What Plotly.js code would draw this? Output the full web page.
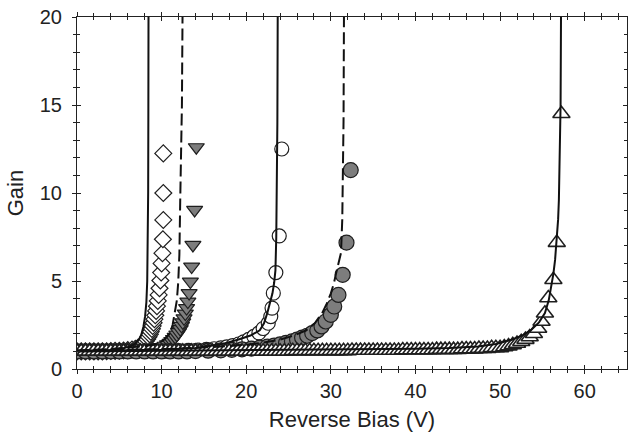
<!DOCTYPE html>
<html>
<head>
<meta charset="utf-8">
<script src="https://cdn.plot.ly/plotly-3.0.1.min.js"></script>
<style>html,body{margin:0;padding:0;background:#fff;}#chart{width:630px;height:441px;}</style>
</head>
<body>
<div id="chart"></div>
<script>
// ---- data ----
const diamondBias = [0,0.5,1,1.5,2,2.5,3,3.5,4,4.5,5,5.5,6,6.5,6.9,7.2,7.5,7.75,7.95,8.12,8.3,8.45,8.6,8.72,8.85,8.95,9.05,9.15,9.25,9.35,9.45,9.55,9.65,9.75,9.85,9.95,10.0,10.1,10.15,10.2,10.2,10.2];
const diamondGain = [1.0,1.0,1.0,1.0,1.0,1.0,1.0,1.01,1.02,1.03,1.04,1.05,1.07,1.1,1.15,1.2,1.28,1.37,1.47,1.58,1.7,1.83,1.97,2.12,2.28,2.45,2.63,2.83,3.05,3.3,3.57,3.87,4.21,4.59,5.03,5.48,6.0,6.58,7.37,8.47,10.0,12.25];

const triDownBias = [0,0.5,1,1.5,2,2.5,3,3.5,4,4.5,5,6,7,7.7,8.4,9.0,9.5,10.0,10.4,10.7,11.0,11.2,11.4,11.6,11.8,12.0,12.2,12.35,12.5,12.65,12.8,12.95,13.1,13.25,13.4,13.55,13.7,13.9,14.1];
const triDownGain = [1.0,1.0,1.0,1.0,1.0,1.0,1.0,1.0,1.0,1.0,1.02,1.03,1.05,1.07,1.1,1.14,1.19,1.25,1.32,1.4,1.49,1.59,1.7,1.82,1.95,2.1,2.27,2.45,2.65,2.88,3.15,3.46,3.83,4.31,4.97,5.82,7.05,9.04,12.6];

const openCircBias = [0,1,2,3,4,5,6,7,8,9,10.5,12,13.2,14.3,15.3,16.2,17,17.7,18.4,19.1,19.7,20.3,20.9,21.5,22.0,22.6,22.9,23.05,23.2,23.5,23.9,24.2];
const openCircGain = [1.0,1.0,1.0,1.0,1.0,1.0,1.0,1.0,1.0,1.0,1.02,1.04,1.06,1.08,1.11,1.15,1.2,1.26,1.33,1.42,1.54,1.68,1.85,2.05,2.3,2.6,2.98,3.46,4.31,5.48,7.56,12.5];

const grayCircBias = [0,1,2,3,4,5,6,7,8,9,10,11,12,13,14,15.5,17,18.3,19.5,20.6,21.6,22.5,23.3,24.0,24.7,25.4,26.0,26.6,27.2,27.8,28.4,28.9,29.4,30.0,30.4,30.9,31.4,31.85,32.35];
const grayCircGain = [1.0,1.0,1.0,1.0,1.0,1.0,1.0,1.0,1.0,1.0,1.0,1.0,1.0,1.0,1.02,1.04,1.06,1.09,1.12,1.16,1.21,1.27,1.33,1.4,1.48,1.57,1.67,1.78,1.89,2.04,2.19,2.42,2.7,3.08,3.55,4.21,5.35,7.18,11.3];

const triUpBias = [0,0.5,1,1.5,2,2.5,3,3.5,4,4.5,5,5.5,6,6.5,7,7.5,8,8.5,9,9.5,10,10.5,11,11.5,12,12.5,13,13.5,14,14.5,15,15.5,16,16.5,17,17.5,18,18.5,19,19.5,20,20.5,21,21.5,22,22.5,23,23.5,24,24.5,25,25.5,26,26.5,27,27.5,28,28.5,29,29.5,30,30.5,31,31.5,32,32.5,33,33.5,34,34.5,35,35.5,36,36.5,37,37.5,38,38.5,39,39.5,40,40.5,41,41.5,42,42.5,43,43.5,44,44.5,45,45.5,46,46.5,47,47.5,48,48.5,49,49.5,50,50.5,51,51.5,52,52.5,53,53.5,54,54.5,54.9,55.3,55.7,56.3,56.7,57.25];
const triUpGain = [1.0,1.0,1.0,1.0,1.0,1.0,1.0,1.0,1.0,1.0,1.0,1.0,1.0,1.0,1.0,1.0,1.0,1.0,1.0,1.0,1.0,1.0,1.0,1.0,1.0,1.0,1.0,1.0,1.0,1.0,1.0,
  1.01,1.01,1.01,1.01,1.01,1.01,1.01,1.01,1.01,1.01,1.01,1.01,1.01,1.01,1.01,1.01,1.01,1.01,1.01,1.01,
  1.03,1.03,1.03,1.03,1.03,1.03,1.03,1.03,1.03,1.03,1.03,1.03,1.03,1.03,
  1.05,1.05,1.05,1.05,1.05,1.05,1.05,1.05,1.05,1.05,1.05,1.05,
  1.08,1.08,1.08,1.08,1.08,1.08,1.08,1.08,
  1.1,1.1,1.1,1.1,1.1,1.1,
  1.13,1.13,1.13,1.13,
  1.16,1.16,1.16,
  1.2,1.2,1.2,
  1.25,1.3,1.37,1.45,1.55,1.67,1.82,2.0,2.3,2.7,3.17,4.03,5.07,7.18,14.5];

// fitted curves
const fitA_bias = [0,2,4,5,5.8,6.4,6.9,7.3,7.6,7.85,8.05,8.2,8.3,8.37,8.41,8.43,8.45];
const fitA_gain = [1.02,1.04,1.08,1.12,1.2,1.3,1.45,1.65,1.95,2.4,3.0,3.8,5.0,7,10,14,20];
const fitB_bias = [0,2,4,5.3,7,8,9,9.8,10.4,11.0,11.3,11.56,11.8,11.96,12.1,12.2,12.3,12.4,12.47];
const fitB_gain = [1.05,1.08,1.13,1.19,1.25,1.3,1.38,1.5,1.7,2.04,2.5,3.18,3.9,4.9,6.5,9.6,12,15,20];
const fitC_bias = [0,5,10,14,17,19,20.5,21.6,22.1,22.5,22.85,23.1,23.3,23.45,23.55,23.62,23.68,23.72];
const fitC_gain = [1.02,1.05,1.1,1.2,1.4,1.66,1.9,2.2,2.6,3.2,3.8,4.3,4.9,5.6,7.5,10,14,20];
const fitD_bias = [0,4,8,11,14,16,18,20,21.6,23.9,25.5,27.1,28.1,29.0,29.5,30.0,30.35,30.6,30.9,31.2,31.35,31.45,31.5,31.55];
const fitD_gain = [1.05,1.07,1.1,1.14,1.2,1.24,1.3,1.38,1.47,1.66,1.88,2.2,2.6,3.2,3.7,4.3,4.85,5.4,6.0,6.6,8.5,11,14.1,20];
const fitE_bias = [0,10,20,30,40,44,47.4,49.5,51.4,52.7,53.7,54.6,55.3,55.75,56.07,56.3,56.5,56.7,56.86,56.95,57.06,57.15,57.2];
const fitE_gain = [1.0,1.03,1.05,1.08,1.15,1.2,1.28,1.42,1.66,1.92,2.23,2.65,3.18,3.9,4.7,5.4,6.2,7.3,8.5,9.6,12,15,20];

const xTitle = 'Reverse Bias (V)';
const yTitle = 'Gain';

// ---- styles ----
const GRAY = '#7d7d7d';
const EDGE = '#1e1e1e';
function pts(x, y, symbol, fill, size, lw) {
  return {x: x, y: y, type: 'scatter', mode: 'markers', hoverinfo: 'skip', showlegend: false,
    marker: {symbol: symbol, size: size, color: fill, line: {color: EDGE, width: lw}}};
}
function fit(x, y, dash) {
  return {x: x, y: y, type: 'scatter', mode: 'lines', hoverinfo: 'skip', showlegend: false,
    line: {color: '#111', width: 2, dash: dash}};
}

const traces = [
  pts(diamondBias, diamondGain, 'diamond', '#fff', 13, 1.2),
  pts(triDownBias, triDownGain, 'triangle-down', GRAY, 14, 1.2),
  pts(openCircBias, openCircGain, 'circle', '#fff', 14, 1.2),
  pts(grayCircBias, grayCircGain, 'circle', GRAY, 15, 1.2),
  pts(triUpBias, triUpGain, 'triangle-up', '#fff', 15, 1.6),
  fit(fitA_bias, fitA_gain, 'solid'),
  fit(fitB_bias, fitB_gain, '12px,5px'),
  fit(fitC_bias, fitC_gain, 'solid'),
  fit(fitD_bias, fitD_gain, '12px,5px'),
  fit(fitE_bias, fitE_gain, 'solid'),
  {x: [], y: [], xaxis: 'x2', yaxis: 'y2', type: 'scatter', mode: 'markers', showlegend: false, hoverinfo: 'skip'}
];

const FONT = 'Liberation Sans, Arial, sans-serif';
const axisCommon = {showgrid: false, zeroline: false, linecolor: '#222', linewidth: 1, tickcolor: '#222', tickwidth: 1, fixedrange: true};

const layout = {
  width: 630, height: 441,
  margin: {l: 77, r: 3, t: 17, b: 72},
  paper_bgcolor: '#fff', plot_bgcolor: '#fff',
  showlegend: false,
  font: {family: FONT, color: '#222', size: 20},
  xaxis: Object.assign({}, axisCommon, {
    range: [0, 65], autorange: false, tick0: 0, dtick: 10,
    ticks: 'outside', ticklen: 4, showline: true, mirror: 'ticks',
    minor: {dtick: 2, ticks: 'outside', ticklen: 3, tickcolor: '#222', tickwidth: 1},
    tickfont: {family: FONT, size: 20, color: '#222'},
    title: {text: xTitle, font: {family: FONT, size: 22, color: '#222'}, standoff: 10}
  }),
  xaxis2: Object.assign({}, axisCommon, {
    overlaying: 'x', side: 'bottom', range: [0, 65], autorange: false, tick0: 0, dtick: 10,
    ticks: 'inside', ticklen: 4, showline: false, mirror: 'ticks', showticklabels: false,
    minor: {dtick: 2, ticks: 'inside', ticklen: 3, tickcolor: '#222', tickwidth: 1}
  }),
  yaxis: Object.assign({}, axisCommon, {
    range: [0, 20], autorange: false, tick0: 0, dtick: 5,
    ticks: 'outside', ticklen: 4, showline: true, mirror: true,
    minor: {dtick: 1, ticks: 'outside', ticklen: 3, tickcolor: '#222', tickwidth: 1},
    tickfont: {family: FONT, size: 20, color: '#222'},
    ticklabelstandoff: 6,
    title: {text: yTitle, font: {family: FONT, size: 22, color: '#222'}, standoff: 10}
  }),
  yaxis2: Object.assign({}, axisCommon, {
    overlaying: 'y', side: 'left', range: [0, 20], autorange: false, tick0: 0, dtick: 5,
    ticks: 'inside', ticklen: 4, showline: false, mirror: 'ticks', showticklabels: false,
    minor: {dtick: 1, ticks: 'inside', ticklen: 3, tickcolor: '#222', tickwidth: 1}
  })
};

Plotly.newPlot('chart', traces, layout, {staticPlot: true, displayModeBar: false});
</script>
</body>
</html>
